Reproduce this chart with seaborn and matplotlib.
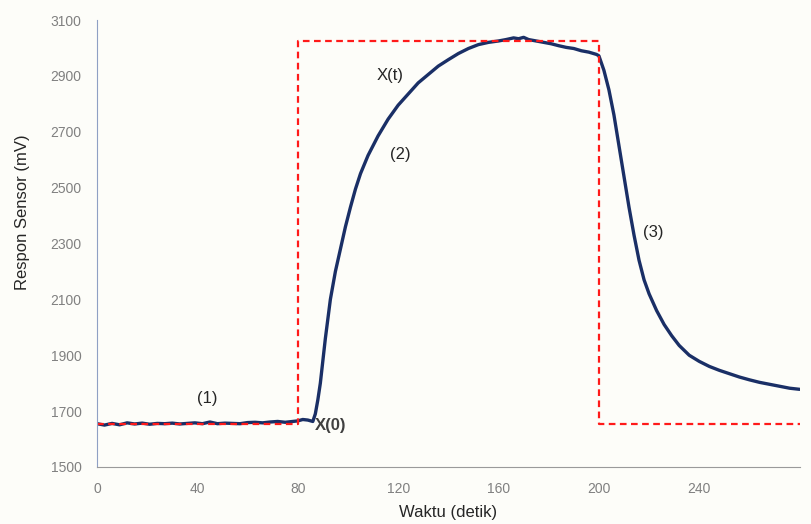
import matplotlib
matplotlib.use("Agg")
import matplotlib.pyplot as plt
import seaborn as sns
import pandas as pd

# data
waktu = [0, 3, 6, 9, 12, 15, 18, 21, 24, 27, 30, 33, 36, 39, 42, 45, 48, 51, 54, 57,
         60, 63, 66, 69, 72, 75, 78, 80, 82, 84, 86,
         87, 88, 89, 90, 91, 92, 93, 95, 97, 99, 101, 103, 105, 108, 112, 116, 120,
         124, 128, 132, 136, 140, 144, 148, 152, 156, 160, 163, 166, 168, 170, 172,
         175, 178, 181, 184, 187, 190, 193, 196, 199, 200,
         202, 204, 206, 208, 210, 212, 214, 216, 218, 220, 223, 226, 229, 232, 236,
         240, 244, 248, 252, 256, 260, 264, 268, 272, 276, 280]
respon = [1655, 1650, 1656, 1651, 1658, 1654, 1657, 1653, 1656, 1655, 1657, 1654, 1656, 1658, 1655, 1661, 1655, 1657, 1656, 1655,
          1659, 1660, 1658, 1661, 1663, 1660, 1663, 1665, 1670, 1668, 1663,
          1690, 1740, 1800, 1880, 1960, 2030, 2100, 2200, 2280, 2360, 2430, 2495, 2550, 2615, 2685, 2745, 2795,
          2835, 2875, 2905, 2935, 2958, 2980, 2998, 3012, 3020, 3025, 3030, 3036, 3033, 3038, 3030,
          3025, 3020, 3015, 3008, 3002, 2998, 2990, 2985, 2977, 2972,
          2920, 2850, 2760, 2650, 2540, 2430, 2330, 2240, 2170, 2120, 2060, 2010, 1970, 1935, 1900,
          1878, 1860, 1846, 1834, 1822, 1812, 1803, 1796, 1789, 1782, 1778]

# sinyal gas (step)
step_t = [0, 80, 80, 200, 200, 280]
step_v = [1655, 1655, 3025, 3025, 1655, 1655]

xticks = [0, 40, 80, 120, 160, 200, 240, 280]
xlabels = ["0", "40", "80", "120", "160", "200", "240", ""]
yticks = [1500, 1700, 1900, 2100, 2300, 2500, 2700, 2900, 3100]

sns.set_style("white")
plt.rcParams['font.family'] = ['Liberation Sans', 'DejaVu Sans']

df = pd.DataFrame({"t": waktu, "v": respon})
df_step = pd.DataFrame({"t": step_t, "v": step_v})

fig = plt.figure(figsize=(8.11, 5.24), dpi=100)
fig.patch.set_facecolor("#fdfdf9")
ax = fig.add_axes([0.1196, 0.1088, 0.8664, 0.853])
ax.set_facecolor("#fdfdf9")

sns.lineplot(data=df, x="t", y="v", sort=False, estimator=None, ax=ax,
             color="#1a2f66", linewidth=2.4)
sns.lineplot(data=df_step, x="t", y="v", sort=False, estimator=None, ax=ax,
             color="#ff1a1a", linewidth=1.6, linestyle=(0, (3, 2)))

ax.set_xlim(0, 280)
ax.set_ylim(1500, 3100)
ax.set_xticks(xticks)
ax.set_xticklabels(xlabels)
ax.set_yticks(yticks)

for s in ["top", "right"]:
    ax.spines[s].set_visible(False)
ax.spines["left"].set_color("#8fa0c4")
ax.spines["bottom"].set_color("#9a9a9a")
ax.tick_params(axis="both", which="both", length=5, direction="out",
               labelsize=10, labelcolor="#808080", pad=6)
ax.tick_params(axis="y", colors="#8fa0c4", labelcolor="#808080")
ax.tick_params(axis="x", colors="#9a9a9a", labelcolor="#808080")

ax.set_xlabel("Waktu (detik)", fontsize=12, labelpad=6)
ax.set_ylabel("Respon Sensor (mV)", fontsize=12)
ax.yaxis.set_label_coords(-0.095, 0.57)

ax.text(44, 1746, "(1)", fontsize=12, ha="center", va="center")
ax.text(93, 1650, "X(0)", fontsize=12, ha="center", va="center", color="#404040",
        fontweight="bold")
ax.text(121, 2617, "(2)", fontsize=12, ha="center", va="center")
ax.text(117, 2903, "X(t)", fontsize=12, ha="center", va="center")
ax.text(221.6, 2338, "(3)", fontsize=12, ha="center", va="center")

plt.savefig("out.png", dpi=100, facecolor=fig.get_facecolor())
